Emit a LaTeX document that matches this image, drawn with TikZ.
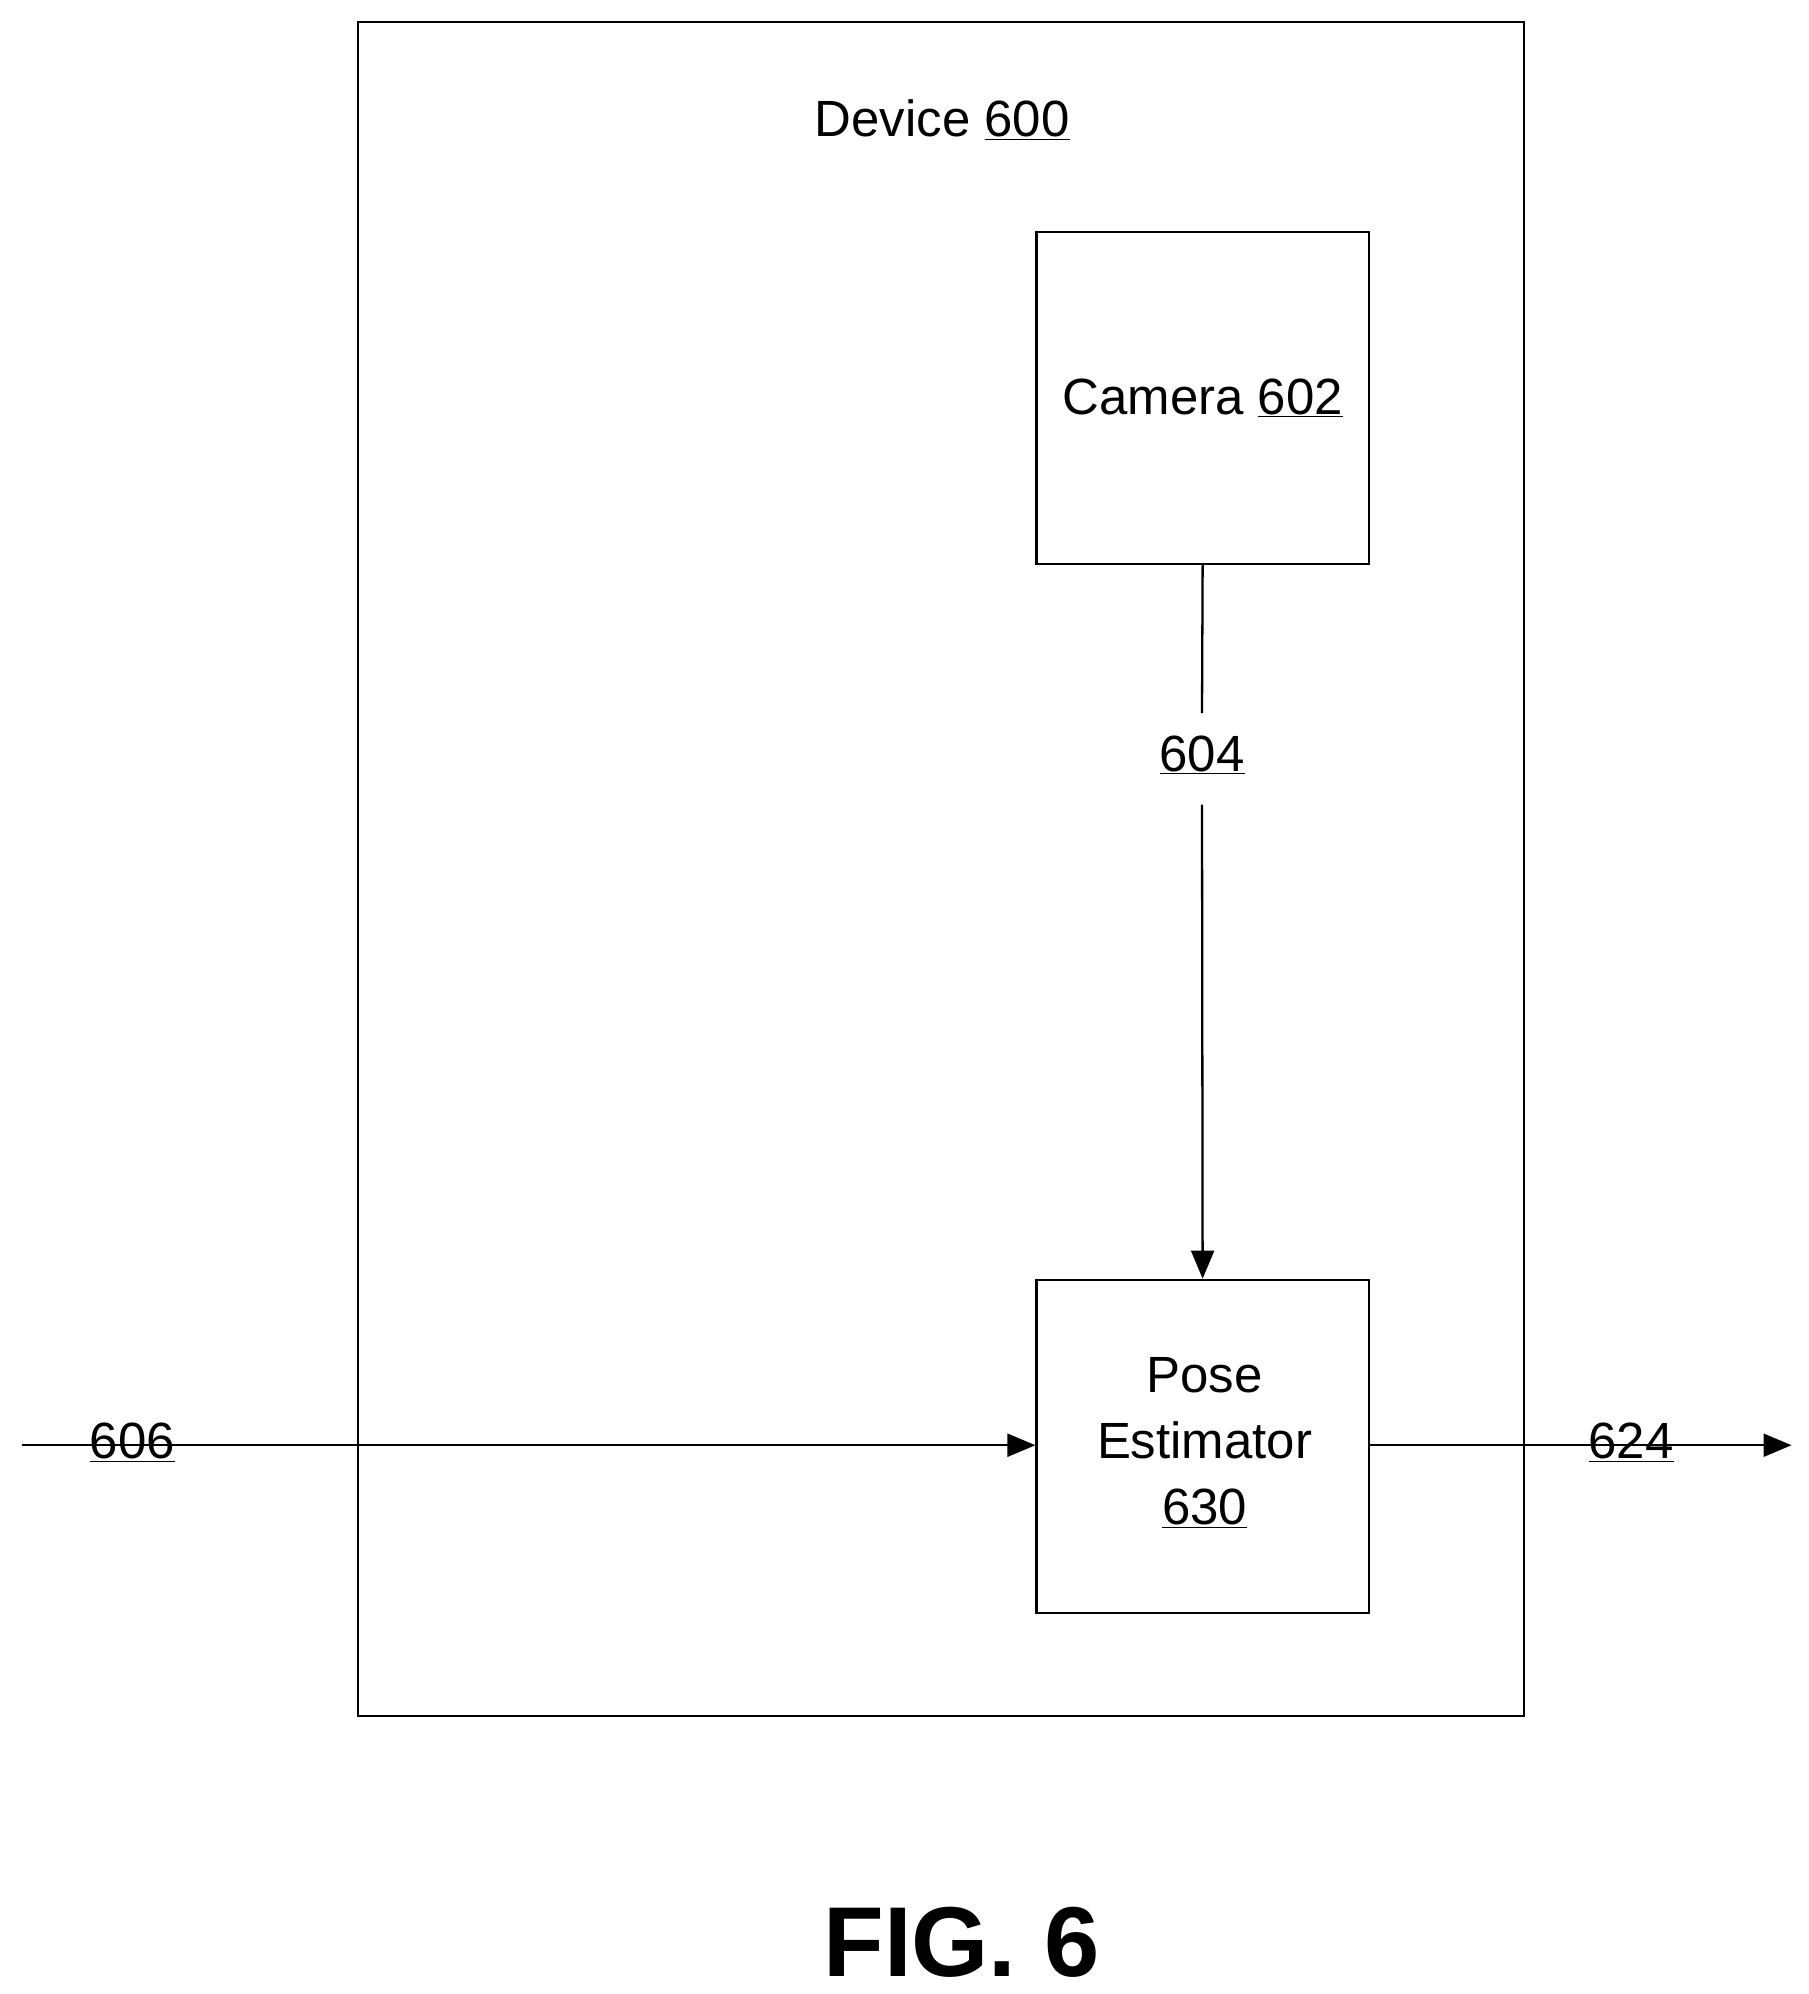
\documentclass[tikz,border=0pt]{standalone}
\usepackage{fontspec}
\setmainfont{Liberation Sans}
\usetikzlibrary{arrows.meta}
\begin{document}
\begin{tikzpicture}[x=1pt,y=-1pt,
  box/.style={draw,line width=1.6pt,inner sep=0},
  lbl/.style={font=\fontsize{40}{48}\selectfont,inner sep=1pt},
  conn/.style={line width=1.8pt},
  arr/.style={conn,-{Triangle[length=22pt,width=18pt]}}]
\useasboundingbox (0,0) rectangle (1420,1566);
\draw[line width=1.6pt] (281,17) rectangle (1197,1348);
\node[lbl] (dev) at (740,94) {Device \underline{600}};
\node[box,minimum width=261pt,minimum height=261pt] (cam) at (944.5,312.5) {};
\node[lbl] at (cam) {Camera \underline{602}};
\node[box,minimum width=261pt,minimum height=262pt] (pose) at (944.5,1136) {};
\node[lbl,align=center,font=\fontsize{40}{52}\selectfont] at (946,1133) {Pose\\Estimator\\\underline{630}};
\node[lbl] (l604) at (944,593) {\underline{604}};
\draw[conn] (cam.south) -- (944,560);
\draw[arr] (944,632) -- (pose.north);
\coordinate (in) at (17,1135);
\draw[arr] (in) -- (pose.west |- in);
\node[lbl] at (104,1133) {\underline{606}};
\coordinate (out) at (1407,1135);
\draw[arr] (pose.east |- out) -- (out);
\node[lbl] at (1281,1133) {\underline{624}};
\node[font=\fontsize{78}{90}\selectfont\bfseries] at (755,1525) {FIG. 6};
\end{tikzpicture}
\end{document}
